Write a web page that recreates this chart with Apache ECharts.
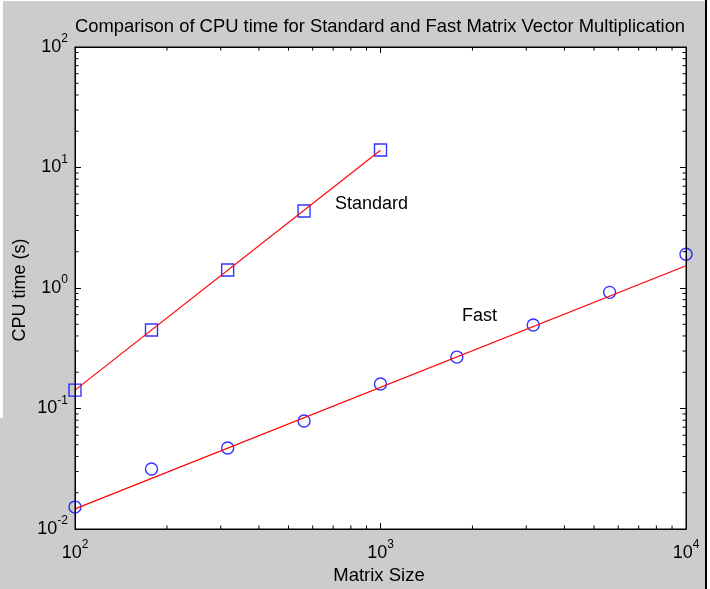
<!DOCTYPE html>
<html>
<head>
<meta charset="utf-8">
<script src="https://cdn.jsdelivr.net/npm/echarts@6/dist/echarts.min.js"></script>
<style>
html,body{margin:0;padding:0;background:#cccccc;}
#chart{width:710px;height:589px;}
</style>
</head>
<body>
<div id="chart"></div>
<script>
// ---- data ----
const titleText = 'Comparison of CPU time for Standard and Fast Matrix Vector Multiplication';
const xLabel = 'Matrix Size';
const yLabel = 'CPU time (s)';
const stdX = [100, 178, 316, 562, 1000];
const stdY = [0.142, 0.448, 1.41, 4.36, 13.96];
const fastX = [100, 178, 316, 562, 1000, 1778, 3162, 5623, 10000];
const fastY = [0.0152, 0.0315, 0.047, 0.0787, 0.1595, 0.267, 0.493, 0.92, 1.905];
const stdFitX = [100, 1000];
const stdFitY = [0.142, 13.9];
const fastFitX = [100, 10000];
const fastFitY = [0.0147, 1.53];
const xMin = 100, xMax = 10000;
const yMin = 0.01, yMax = 100;
const xMinorTicks = [200,300,400,500,600,700,800,900,2000,3000,4000,5000,6000,7000,8000,9000];
const yMinorTicks = [0.02,0.03,0.04,0.05,0.06,0.07,0.08,0.09,0.2,0.3,0.4,0.5,0.6,0.7,0.8,0.9,2,3,4,5,6,7,8,9,20,30,40,50,60,70,80,90];
const annotations = [
  {text: 'Standard', x: 335, y: 204},
  {text: 'Fast', x: 462, y: 316}
];

const FONT = 'Arial, "Liberation Sans", sans-serif';
const zip = (a, b) => a.map((v, i) => [v, b[i]]);

const richLabel = {
  b: {fontSize: 18, fontFamily: FONT, color: '#000', lineHeight: 28},
  e: {fontSize: 12, fontFamily: FONT, color: '#000', verticalAlign: 'top', lineHeight: 12}
};
const fmt = v => {
  const e = Math.round(Math.log10(v));
  return '{b|10}{e|' + e + '}';
};

function axisBase(showLabel, pos, margin) {
  return {
    type: 'log', logBase: 10, position: pos,
    axisLine: {show: true, lineStyle: {color: '#000', width: 1}},
    axisTick: {show: true, inside: true, length: 6, lineStyle: {color: '#000'}},
    minorTick: {show: false},
    splitLine: {show: false},
    axisLabel: {show: showLabel, formatter: fmt, rich: richLabel, margin: margin || 8},
    z: 5
  };
}

const chart = echarts.init(document.getElementById('chart'), null, {renderer: 'canvas'});

const option = {
  backgroundColor: '#cccccc',
  animation: false,
  grid: {left: 75, top: 47, right: 24, bottom: 60, show: true, backgroundColor: '#ffffff', borderColor: '#000', borderWidth: 1, containLabel: false},
  xAxis: [
    Object.assign(axisBase(true, 'bottom', 10), {min: xMin, max: xMax}),
    Object.assign(axisBase(false, 'top'), {min: xMin, max: xMax})
  ],
  yAxis: [
    Object.assign(axisBase(true, 'left', 7), {min: yMin, max: yMax}),
    Object.assign(axisBase(false, 'right'), {min: yMin, max: yMax})
  ],
  series: [
    {
      type: 'custom', xAxisIndex: 0, yAxisIndex: 0, clip: false, silent: true, z: 6,
      data: xMinorTicks.map(v => [v, yMin]),
      renderItem: (params, api) => {
        const v = api.value(0);
        const b = api.coord([v, yMin]);
        const t = api.coord([v, yMax]);
        return {type: 'group', children: [
          {type: 'line', shape: {x1: b[0], y1: b[1], x2: b[0], y2: b[1] - 3.5}, style: {stroke: '#000', lineWidth: 1}},
          {type: 'line', shape: {x1: t[0], y1: t[1], x2: t[0], y2: t[1] + 3.5}, style: {stroke: '#000', lineWidth: 1}}
        ]};
      }
    },
    {
      type: 'custom', xAxisIndex: 0, yAxisIndex: 0, clip: false, silent: true, z: 6,
      data: yMinorTicks.map(v => [xMin, v]),
      renderItem: (params, api) => {
        const v = api.value(1);
        const l = api.coord([xMin, v]);
        const r = api.coord([xMax, v]);
        return {type: 'group', children: [
          {type: 'line', shape: {x1: l[0], y1: l[1], x2: l[0] + 3.5, y2: l[1]}, style: {stroke: '#000', lineWidth: 1}},
          {type: 'line', shape: {x1: r[0], y1: r[1], x2: r[0] - 3.5, y2: r[1]}, style: {stroke: '#000', lineWidth: 1}}
        ]};
      }
    },
    {
      name: 'Standard', type: 'scatter', data: zip(stdX, stdY), symbol: 'rect', symbolSize: 12,
      itemStyle: {color: 'rgba(0,0,0,0)', borderColor: '#0000ff', borderWidth: 1.4}, z: 3, silent: true
    },
    {
      name: 'Fast', type: 'scatter', data: zip(fastX, fastY), symbol: 'circle', symbolSize: 12,
      itemStyle: {color: 'rgba(0,0,0,0)', borderColor: '#0000ff', borderWidth: 1.4}, z: 3, silent: true
    },
    {
      type: 'line', data: zip(stdFitX, stdFitY), symbol: 'none', lineStyle: {color: '#ff0000', width: 1.2}, z: 4, silent: true
    },
    {
      type: 'line', data: zip(fastFitX, fastFitY), symbol: 'none', lineStyle: {color: '#ff0000', width: 1.2}, z: 4, silent: true
    }
  ],
  graphic: [
    {type: 'text', x: 380, y: 27, style: {text: titleText, font: '18.4px ' + FONT, fill: '#000', align: 'center', verticalAlign: 'middle'}, z: 10},
    {type: 'text', x: 379, y: 576, style: {text: xLabel, font: '18.5px ' + FONT, fill: '#000', align: 'center', verticalAlign: 'middle'}, z: 10},
    {type: 'text', x: 20, y: 290, rotation: Math.PI / 2, style: {text: yLabel, font: '18px ' + FONT, fill: '#000', align: 'center', verticalAlign: 'middle'}, z: 10},
    ...annotations.map(a => ({type: 'text', x: a.x, y: a.y, style: {text: a.text, font: '18px ' + FONT, fill: '#000', align: 'left', verticalAlign: 'middle'}, z: 10})),
    {type: 'rect', shape: {x: 0, y: 0, width: 710, height: 1}, style: {fill: '#ffffff'}, z: 20},
    {type: 'rect', shape: {x: 0, y: 0, width: 3, height: 418}, style: {fill: '#ffffff'}, z: 20},
    {type: 'rect', shape: {x: 705, y: 0, width: 2, height: 589}, style: {fill: '#000000'}, z: 20},
    {type: 'rect', shape: {x: 707, y: 0, width: 3, height: 589}, style: {fill: '#ffffff'}, z: 20}
  ]
};
chart.setOption(option);
</script>
</body>
</html>
